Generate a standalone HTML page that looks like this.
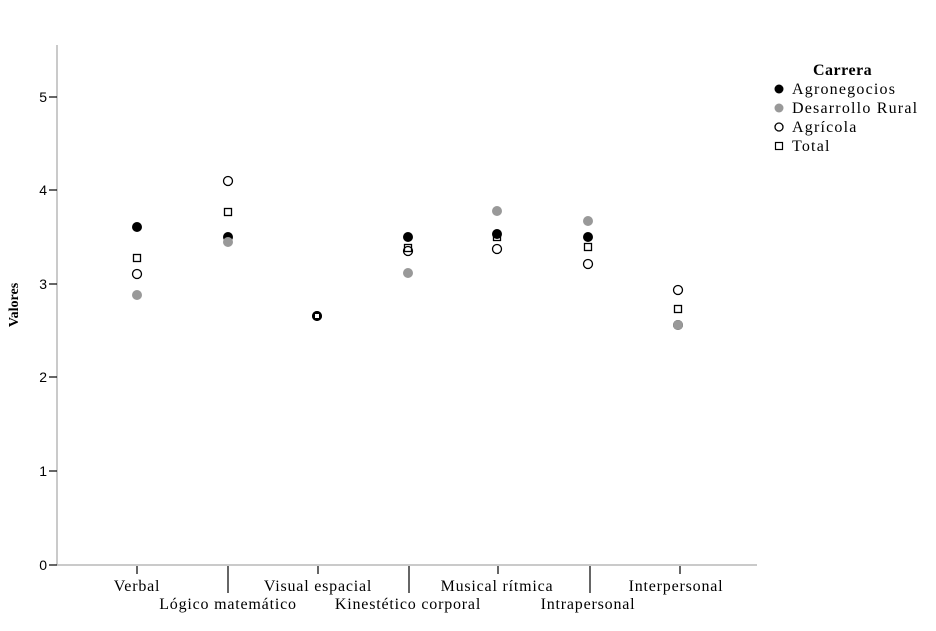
<!DOCTYPE html>
<html><head><meta charset="utf-8"><style>body{margin:0;background:#fff}svg{display:block}</style></head>
<body>
<svg width="936" height="631" xmlns="http://www.w3.org/2000/svg" font-family="Liberation Serif, serif">
<rect width="936" height="631" fill="#fff"/>
<g stroke="#b8b8b8" stroke-width="1.5" fill="none">
<line x1="57" y1="45" x2="57" y2="565"/>
<line x1="57" y1="565" x2="757" y2="565"/>
</g>
<g stroke="#000" stroke-width="1.2">
<line x1="49" y1="97" x2="57" y2="97"/><line x1="49" y1="190" x2="57" y2="190"/>
<line x1="49" y1="284" x2="57" y2="284"/><line x1="49" y1="377" x2="57" y2="377"/>
<line x1="49" y1="471" x2="57" y2="471"/><line x1="49" y1="565" x2="57" y2="565"/>
<line x1="137" y1="566" x2="137" y2="574"/><line x1="318" y1="566" x2="318" y2="574"/>
<line x1="498" y1="566" x2="498" y2="574"/><line x1="680" y1="566" x2="680" y2="574"/>
<line x1="228" y1="566" x2="228" y2="593"/><line x1="409" y1="566" x2="409" y2="593"/>
<line x1="590" y1="566" x2="590" y2="593"/>
</g>
<g font-size="14" text-anchor="end" font-family="Liberation Sans, sans-serif">
<text x="47" y="102">5</text><text x="47" y="195">4</text><text x="47" y="289">3</text>
<text x="47" y="382">2</text><text x="47" y="476">1</text><text x="47" y="570">0</text>
</g>
<text transform="translate(18,305) rotate(-90)" font-size="14" font-weight="bold" text-anchor="middle">Valores</text>
<g font-size="16" text-anchor="middle" letter-spacing="0.8">
<text x="137" y="591">Verbal</text><text x="318" y="591">Visual espacial</text>
<text x="497" y="591">Musical rítmica</text><text x="676" y="591">Interpersonal</text>
<text x="228" y="609">Lógico matemático</text><text x="408" y="609">Kinestético corporal</text>
<text x="588" y="609">Intrapersonal</text>
</g>
<g font-size="16" letter-spacing="1.2">
<text x="813" y="75" font-weight="bold" letter-spacing="0.5">Carrera</text>
<circle cx="779" cy="89" r="4.5" fill="#000"/><text x="792" y="94">Agronegocios</text>
<circle cx="779" cy="108" r="4.5" fill="#999"/><text x="792" y="113">Desarrollo Rural</text>
<circle cx="779" cy="127" r="4" fill="none" stroke="#000" stroke-width="1.3"/><text x="792" y="132">Agrícola</text>
<rect x="775.5" y="142.5" width="7" height="7" fill="none" stroke="#000" stroke-width="1.2"/><text x="792" y="151">Total</text>
</g>
<g>
<g fill="#000">
<circle cx="137" cy="227" r="5"/><circle cx="228" cy="237" r="5"/><circle cx="317" cy="316" r="5"/>
<circle cx="408" cy="237" r="5"/><circle cx="497" cy="234" r="5"/><circle cx="588" cy="237" r="5"/><circle cx="678" cy="325" r="5"/>
</g>
<g fill="#999">
<circle cx="137" cy="295" r="5"/><circle cx="228" cy="242" r="5"/>
<circle cx="408" cy="273" r="5"/><circle cx="497" cy="211" r="5"/><circle cx="588" cy="221" r="5"/><circle cx="678" cy="325" r="5"/>
</g>
<g fill="none" stroke="#000" stroke-width="1.3">
<circle cx="137" cy="274" r="4.5"/><circle cx="228" cy="181" r="4.5"/>
<circle cx="408" cy="251" r="4.5"/><circle cx="497" cy="249" r="4.5"/><circle cx="588" cy="264" r="4.5"/><circle cx="678" cy="290" r="4.5"/>
<rect x="133.5" y="254.5" width="7" height="7"/><rect x="224.5" y="208.5" width="7" height="7"/>
<rect x="404.5" y="244.5" width="7" height="7"/><rect x="493.5" y="233.5" width="7" height="7"/><rect x="584.5" y="243.5" width="7" height="7"/><rect x="674.5" y="305.5" width="7" height="7"/>
</g>
<circle cx="317" cy="316" r="4" fill="#fff" stroke="#000" stroke-width="2"/>
<rect x="314.5" y="313.5" width="5" height="5" fill="none" stroke="#000" stroke-width="1"/>
</g>
</svg>
</body></html>
